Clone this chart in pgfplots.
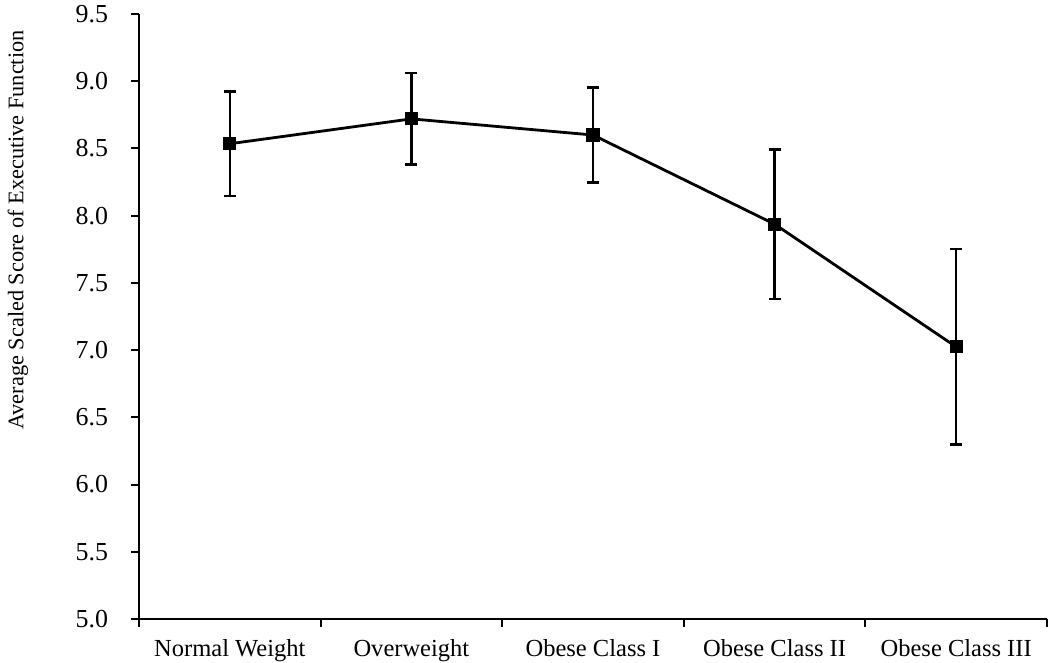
\documentclass[border=0pt]{standalone}
\usepackage{fontspec}
\setmainfont{Liberation Serif}
\usepackage{pgfplots}
\pgfplotsset{compat=1.18}
\begin{document}
\begin{tikzpicture}[x=1bp,y=1bp]
\begin{axis}[
  at={(0,0)}, anchor=south west,
  scale only axis,
  width=454bp, height=302.5bp,
  xmin=-0.5, xmax=4.5,
  ymin=5, ymax=9.5,
  axis lines*=left,
  axis line style={-, line width=1bp},
  tick align=outside,
  major tick length=4bp,
  tick style={line width=1bp, black},
  xtick={-0.5,0.5,1.5,2.5,3.5,4.5},
  x tick label as interval,
  xticklabels={Normal Weight,Overweight,Obese Class I,Obese Class II,Obese Class III},
  xticklabel style={font=\fontsize{12.3}{14}\selectfont, yshift=-2.5bp},
  ytick={5,5.5,...,9.5},
  yticklabel style={font=\fontsize{13}{14}\selectfont, xshift=-8bp, /pgf/number format/fixed, /pgf/number format/precision=1, /pgf/number format/fixed zerofill, /pgf/number format/assume math mode=true},
  ylabel={Average Scaled Score of Executive Function},
  ylabel style={font=\fontsize{11.2}{12}\selectfont, at={(axis description cs:-0.1333,0.643)}, anchor=center, rotate=0},
  clip=false,
]
\addplot[black, line width=1.4bp, mark=square*, mark size=2.6bp, mark options={solid},
  error bars/.cd, y dir=both, y explicit,
  error bar style={line width=1.2bp, black},
  error mark options={rotate=90, mark size=3bp, line width=1.2bp, black}]
coordinates {
  (0,8.535) +- (0,0.39)
  (1,8.72) +- (0,0.34)
  (2,8.60) +- (0,0.354)
  (3,7.937) +- (0,0.556)
  (4,7.024) +- (0,0.727)
};
\end{axis}
\pgfresetboundingbox
\useasboundingbox (-69.5bp,-22bp) rectangle (455.5bp,309.5bp);
\end{tikzpicture}
\end{document}
